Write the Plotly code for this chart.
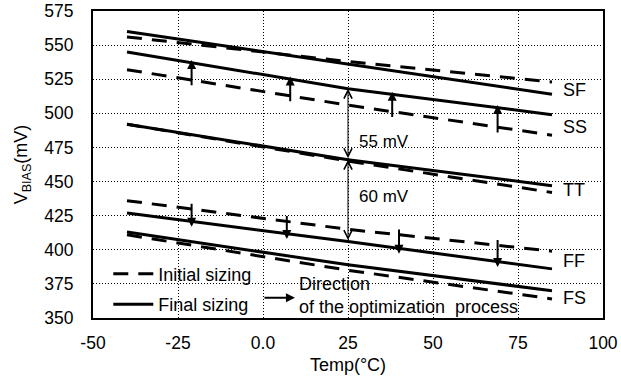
import numpy as np
import plotly.graph_objects as go

# ---- data ----
temps = [-40, 25, 85]
corners = ["SF", "SS", "TT", "FF", "FS"]
final_vals = {
    "SF": [560, 536, 514],
    "SS": [545, 518, 499],
    "TT": [492, 466, 447],
    "FF": [427, 406, 386],
    "FS": [413, 389, 370],
}
initial_vals = {
    "SF": [556, 538, 523],
    "SS": [532, 506, 484],
    "TT": [492, 465, 442],
    "FF": [436, 415, 399],
    "FS": [411, 385, 364],
}
label_y = {"SF": 517, "SS": 490, "TT": 444, "FF": 392, "FS": 365}
label_x = 87.5
up_arrow_x = [-21, 8, 38, 69]      # SS: initial -> final (up)
down_arrow_x = [-21, 7, 40, 69]    # FF: initial -> final (down)
gap_x = 25
gap_labels = ["55 mV", "60 mV"]
gap_label_y = [479, 439]
x_tickvals = [-50, -25, 0, 25, 50, 75, 100]
x_ticktext = ["-50", "-25", "0.0", "25", "50", "75", "100"]
y_tickvals = [350, 375, 400, 425, 450, 475, 500, 525, 550, 575]

FONT = "Liberation Sans, Arial, sans-serif"
fig = go.Figure()

first_i = True
for c in corners:
    fig.add_trace(go.Scatter(
        x=temps, y=initial_vals[c], mode="lines",
        line=dict(color="black", width=3, dash="15px,10px"),
        name="Initial sizing", legendgroup="init", showlegend=first_i,
        legendrank=1))
    first_i = False
first_f = True
for c in corners:
    fig.add_trace(go.Scatter(
        x=temps, y=final_vals[c], mode="lines",
        line=dict(color="black", width=3),
        name="Final sizing", legendgroup="final", showlegend=first_f,
        legendrank=2))
    first_f = False

ann = []
# corner labels
for c in corners:
    ann.append(dict(x=label_x, y=label_y[c], text=c, showarrow=False,
                    xanchor="left", yanchor="middle", font=dict(size=18)))

# optimisation arrows on SS (up)
for xa in up_arrow_x:
    yi = float(np.interp(xa, temps, initial_vals["SS"]))
    yf = float(np.interp(xa, temps, final_vals["SS"]))
    ann.append(dict(x=xa, y=yf + 2, ax=xa, ay=yi - 5, xref="x", yref="y",
                    axref="x", ayref="y", showarrow=True, arrowhead=2,
                    arrowsize=0.9, arrowwidth=2, arrowcolor="black", text=""))
# optimisation arrows on FF (down)
for xa in down_arrow_x:
    yi = float(np.interp(xa, temps, initial_vals["FF"]))
    yf = float(np.interp(xa, temps, final_vals["FF"]))
    ann.append(dict(x=xa, y=yf - 4, ax=xa, ay=yi + 5, xref="x", yref="y",
                    axref="x", ayref="y", showarrow=True, arrowhead=2,
                    arrowsize=0.9, arrowwidth=2, arrowcolor="black", text=""))

# gap double arrows
g_ss = float(np.interp(gap_x, temps, final_vals["SS"]))
g_tt = float(np.interp(gap_x, temps, final_vals["TT"]))
g_ff = float(np.interp(gap_x, temps, final_vals["FF"]))
for (ya, yb), lab, ly in zip([(g_ss, g_tt), (g_tt, g_ff)], gap_labels, gap_label_y):
    ann.append(dict(x=gap_x, y=ya, ax=gap_x, ay=yb, xref="x", yref="y",
                    axref="x", ayref="y", showarrow=True, arrowhead=5,
                    startarrowhead=5, arrowside="end+start", arrowsize=1.6,
                    startarrowsize=1.6, arrowwidth=1, arrowcolor="black", text=""))
    ann.append(dict(x=gap_x + 2.5, y=ly, text=lab, showarrow=False,
                    xanchor="left", yanchor="middle", font=dict(size=17)))

# legend arrow item
ann.append(dict(x=0.396, y=0.066, xref="paper", yref="paper", ax=-32, ay=0,
                showarrow=True, arrowhead=2, arrowsize=0.9, arrowwidth=2,
                arrowcolor="black", text=""))
ann.append(dict(x=0.400, y=0.072, xref="paper", yref="paper", showarrow=False,
                text="Direction<br>of the optimization  process", align="left",
                xanchor="left", yanchor="middle", font=dict(size=18)))

fig.update_layout(
    width=621, height=382,
    margin=dict(l=93, r=18, t=11, b=64),
    paper_bgcolor="white", plot_bgcolor="white",
    font=dict(family=FONT, color="black", size=18),
    annotations=ann,
    showlegend=True,
    legend=dict(x=0.03, y=-0.015, xanchor="left", yanchor="bottom",
                bgcolor="rgba(0,0,0,0)", font=dict(size=18),
                tracegroupgap=4, traceorder="grouped", itemwidth=40),
    xaxis=dict(range=[-50, 100], tickvals=x_tickvals, ticktext=x_ticktext,
               automargin=False,
               showgrid=True, gridcolor="black", gridwidth=1, griddash="1px,2px",
               zeroline=False, showline=True, linecolor="black", linewidth=2,
               mirror=True, ticks="", ticklabelstandoff=8,
               tickfont=dict(size=17.5),
               title=dict(text="Temp(°C)", standoff=6, font=dict(size=18))),
    yaxis=dict(range=[350, 575], tickvals=y_tickvals,
               automargin=False,
               showgrid=True, gridcolor="black", gridwidth=1, griddash="1px,2px",
               zeroline=False, showline=True, linecolor="black", linewidth=2,
               mirror=True, ticks="", ticklabelstandoff=14,
               tickfont=dict(size=17.5),
               title=dict(text="V<sub>BIAS</sub>(mV)", standoff=12, font=dict(size=18))),
)

fig.write_html("out.html")
